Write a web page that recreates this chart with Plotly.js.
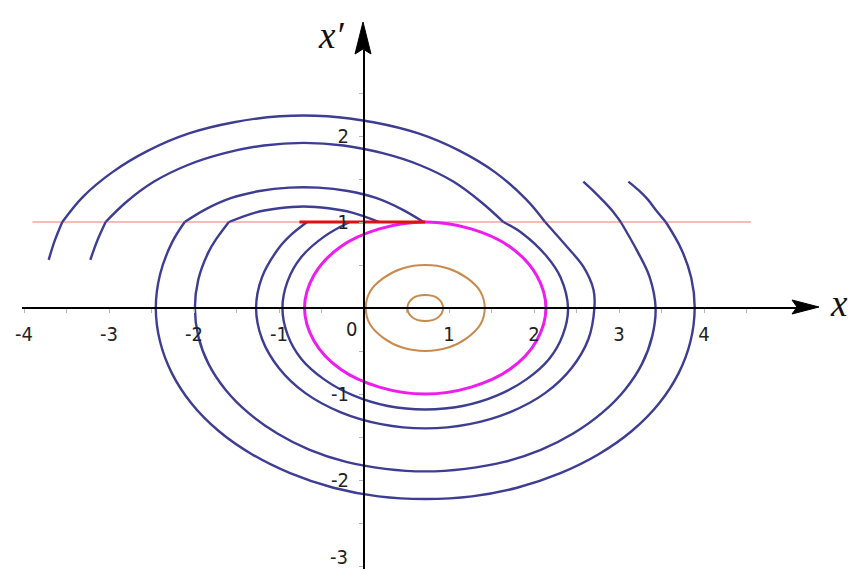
<!DOCTYPE html>
<html>
<head>
<meta charset="utf-8">
<script src="https://cdn.plot.ly/plotly-3.0.1.min.js"></script>
<style>
  html, body { margin: 0; padding: 0; background: #fff; }
  #phasePlot { width: 848px; height: 571px; }
</style>
</head>
<body>
<div id="phasePlot"></div>
<script>
// values (x, x')
const beltX = [-3.9, 4.55];
const beltY = [1, 1];
const stickX = [-0.76, 0.72];
const stickY = [1, 1];

const t1x = [-3.71, -3.64, -3.55, -3.31, -2.96, -2.54, -2.06, -1.53, -0.99, -0.43, 0.11, 0.64, 1.12, 1.54, 1.91, 2.13, 2.38, 2.58, 2.70, 2.71, 2.64, 2.44, 2.13, 1.72, 1.24, 0.72, 0.20, -0.28, -0.69, -1.00, -1.20, -1.27, -1.20, -1.00, -0.86, -0.67];
const t1y = [0.56, 0.78, 1.00, 1.29, 1.58, 1.83, 2.03, 2.16, 2.23, 2.23, 2.16, 2.03, 1.83, 1.58, 1.26, 1.00, 0.72, 0.48, 0.21, 0, -0.36, -0.70, -0.99, -1.21, -1.35, -1.40, -1.35, -1.21, -0.99, -0.70, -0.36, 0, 0.36, 0.70, 0.85, 1.00];
const t1Breaks = [2, 15];

const t2x = [-3.22, -3.14, -3.04, -2.80, -2.47, -2.08, -1.64, -1.18, -0.71, -0.24, 0.22, 0.66, 1.05, 1.38, 1.64, 1.86, 2.15, 2.31, 2.40, 2.34, 2.18, 1.91, 1.56, 1.16, 0.72, 0.28, -0.12, -0.47, -0.74, -0.90, -0.96, -0.90, -0.74, -0.47, -0.17];
const t2y = [0.56, 0.78, 1.00, 1.23, 1.47, 1.66, 1.80, 1.89, 1.92, 1.89, 1.80, 1.66, 1.47, 1.23, 1.00, 0.87, 0.60, 0.36, 0, -0.31, -0.59, -0.83, -1.02, -1.14, -1.18, -1.14, -1.02, -0.83, -0.59, -0.31, 0, 0.31, 0.59, 0.83, 1.00];
const t2Breaks = [2, 14];

const t3x = [2.58, 2.70, 2.82, 2.93, 3.02, 3.21, 3.36, 3.43, 3.39, 3.27, 3.07, 2.80, 2.46, 2.08, 1.65, 1.19, 0.72, 0.25, -0.21, -0.64, -1.02, -1.36, -1.63, -1.83, -1.95, -1.99, -1.95, -1.83, -1.74, -1.59, -1.28, -1.00, -0.71, -0.42, -0.14, 0.18];
const t3y = [1.47, 1.36, 1.24, 1.12, 1.00, 0.67, 0.36, 0, -0.33, -0.65, -0.95, -1.22, -1.46, -1.65, -1.79, -1.87, -1.90, -1.87, -1.79, -1.65, -1.46, -1.22, -0.95, -0.65, -0.33, 0, 0.33, 0.65, 0.80, 1.00, 1.11, 1.16, 1.18, 1.16, 1.11, 1.00];
const t3Breaks = [4, 29];

const t4x = [3.11, 3.23, 3.34, 3.44, 3.55, 3.73, 3.85, 3.89, 3.84, 3.70, 3.47, 3.15, 2.76, 2.31, 1.80, 1.27, 0.72, 0.17, -0.36, -0.87, -1.32, -1.71, -2.03, -2.26, -2.40, -2.45, -2.40, -2.26, -2.11, -1.86, -1.56, -1.23, -0.88, -0.54, -0.19, 0.14, 0.44, 0.70];
const t4y = [1.47, 1.37, 1.26, 1.13, 1.00, 0.69, 0.35, 0, -0.39, -0.76, -1.11, -1.43, -1.70, -1.92, -2.09, -2.19, -2.22, -2.19, -2.09, -1.92, -1.70, -1.43, -1.11, -0.76, -0.39, 0, 0.39, 0.76, 1.00, 1.15, 1.28, 1.36, 1.40, 1.40, 1.36, 1.28, 1.15, 1.00];
const t4Breaks = [4, 28];

const cycleX = [0.72, 1.26, 1.72, 2.03, 2.14, 2.03, 1.72, 1.26, 0.72, 0.18, -0.28, -0.59, -0.70, -0.59, -0.28, 0.18, 0.72];
const cycleY = [1.00, 0.92, 0.71, 0.38, 0, -0.38, -0.71, -0.92, -1.00, -0.92, -0.71, -0.38, 0, 0.38, 0.71, 0.92, 1.00];

const orbitBigX = [1.42, 1.37, 1.21, 0.99, 0.72, 0.45, 0.23, 0.07, 0.02, 0.07, 0.23, 0.45, 0.72, 0.99, 1.21, 1.37, 1.42];
const orbitBigY = [0, 0.19, 0.35, 0.46, 0.50, 0.46, 0.35, 0.19, 0, -0.19, -0.35, -0.46, -0.50, -0.46, -0.35, -0.19, 0];
const orbitSmallX = [0.93, 0.87, 0.72, 0.57, 0.51, 0.57, 0.72, 0.87, 0.93];
const orbitSmallY = [0, 0.11, 0.15, 0.11, 0, -0.11, -0.15, -0.11, 0];

const xTicks = [-4, -3, -2, -1, 1, 2, 3, 4];
const xMinor = [-3.5, -2.5, -1.5, -0.5, 0.5, 1.5, 2.5, 3.5, 4.5];
const yTicks = [-3, -2, -1, 1, 2];
const yMinor = [-2.5, -1.5, -0.5, 0.5, 1.5, 2.5];

// pixel -> paper helpers
function px(x) { return x / 848; }
function py(y) { return 1 - y / 571; }

function curve(xs, ys, color, width, shape) {
  return {
    x: xs,
    y: ys,
    type: 'scatter',
    mode: 'lines',
    line: { color: color, width: width, shape: shape || 'spline', smoothing: 1 },
    hoverinfo: 'skip'
  };
}

// a trajectory changes law where it crosses x' = 1, so each piece gets its own spline
function trajectory(xs, ys, breaks, color, width) {
  const cuts = [0, ...breaks, xs.length - 1];
  const pieces = [];
  for (let i = 0; i < cuts.length - 1; i++) {
    pieces.push(curve(xs.slice(cuts[i], cuts[i + 1] + 1), ys.slice(cuts[i], cuts[i + 1] + 1), color, width));
  }
  return pieces;
}

function showPhasePortrait() {
  const blue = '#3d3d93';
  const orange = '#c98a4e';

  const traces = [
    curve(beltX, beltY, '#f5a5a5', 1.6, 'linear'),
    ...trajectory(t1x, t1y, t1Breaks, blue, 2.4),
    ...trajectory(t2x, t2y, t2Breaks, blue, 2.4),
    ...trajectory(t3x, t3y, t3Breaks, blue, 2.4),
    ...trajectory(t4x, t4y, t4Breaks, blue, 2.4),
    curve(orbitBigX, orbitBigY, orange, 2),
    curve(orbitSmallX, orbitSmallY, orange, 2),
    curve(cycleX, cycleY, '#ee1cee', 3),
    curve(stickX, stickY, '#dd1111', 3.2, 'linear')
  ];

  const tickFont = { family: 'Liberation Sans Narrow, DejaVu Sans Condensed, Arial, sans-serif', size: 20, color: '#222' };
  const serif = { family: 'Liberation Serif, Times New Roman, serif', size: 37, color: '#111' };

  // the lowest y label sits on the bottom edge, so it is placed by hand just above it
  const lowest = yTicks[0];
  const yLabelled = yTicks.slice(1);

  const axisCommon = {
    anchor: 'free',
    showline: true,
    linecolor: '#000',
    linewidth: 2,
    showgrid: false,
    zeroline: false,
    tickmode: 'array',
    ticks: 'outside',
    ticklen: 4,
    tickwidth: 1,
    tickcolor: '#b5b5b5',
    tickfont: tickFont,
    automargin: false,
    fixedrange: true
  };

  const layout = {
    width: 848,
    height: 571,
    margin: { t: 0, l: 0, r: 0, b: 0, pad: 0 },
    showlegend: false,
    paper_bgcolor: '#fff',
    plot_bgcolor: 'rgba(0,0,0,0)',
    xaxis: Object.assign({}, axisCommon, {
      range: [-4.024, 5.129],
      domain: [px(22), px(800)],
      position: py(308),
      tickvals: xTicks,
      ticktext: xTicks.map(String),
      minor: { tickmode: 'array', tickvals: xMinor, ticks: 'outside', ticklen: 4, tickwidth: 1, tickcolor: '#b5b5b5' },
      ticklabelstandoff: 4
    }),
    yaxis: Object.assign({}, axisCommon, {
      range: [-3.03, 3],
      domain: [py(568.6), py(50)],
      position: px(364),
      tickvals: yTicks,
      ticktext: yTicks.map(v => (v === lowest ? '' : String(v))),
      minor: { tickmode: 'array', tickvals: yMinor, ticks: 'outside', ticklen: 4, tickwidth: 1, tickcolor: '#b5b5b5' },
      ticklabelstandoff: 6
    }),
    shapes: [
      // arrowheads on the axes
      {
        type: 'path', xref: 'paper', yref: 'paper',
        path: `M ${px(819)},${py(307)} L ${px(792)},${py(300)} L ${px(797)},${py(307)} L ${px(792)},${py(314)} Z`,
        fillcolor: '#000', line: { color: '#000', width: 1 }
      },
      {
        type: 'path', xref: 'paper', yref: 'paper',
        path: `M ${px(363)},${py(22)} L ${px(355)},${py(54)} L ${px(363)},${py(49)} L ${px(371)},${py(54)} Z`,
        fillcolor: '#000', line: { color: '#000', width: 1 }
      }
    ],
    annotations: [
      { text: '0', xref: 'paper', yref: 'paper', x: px(351), y: py(329), xanchor: 'center', yanchor: 'middle', showarrow: false, font: tickFont },
      { text: String(lowest), xref: 'paper', yref: 'paper', x: px(350), y: py(571), xanchor: 'right', yanchor: 'bottom', showarrow: false, font: tickFont },
      { text: '<i>x</i>', xref: 'paper', yref: 'paper', x: px(839), y: py(303), xanchor: 'center', yanchor: 'middle', showarrow: false, font: serif },
      { text: '<i>x′</i>', xref: 'paper', yref: 'paper', x: px(331), y: py(35), xanchor: 'center', yanchor: 'middle', showarrow: false, font: serif }
    ]
  };

  const config = { staticPlot: true };
  Plotly.newPlot('phasePlot', traces, layout, config);
}

showPhasePortrait();
</script>
</body>
</html>
